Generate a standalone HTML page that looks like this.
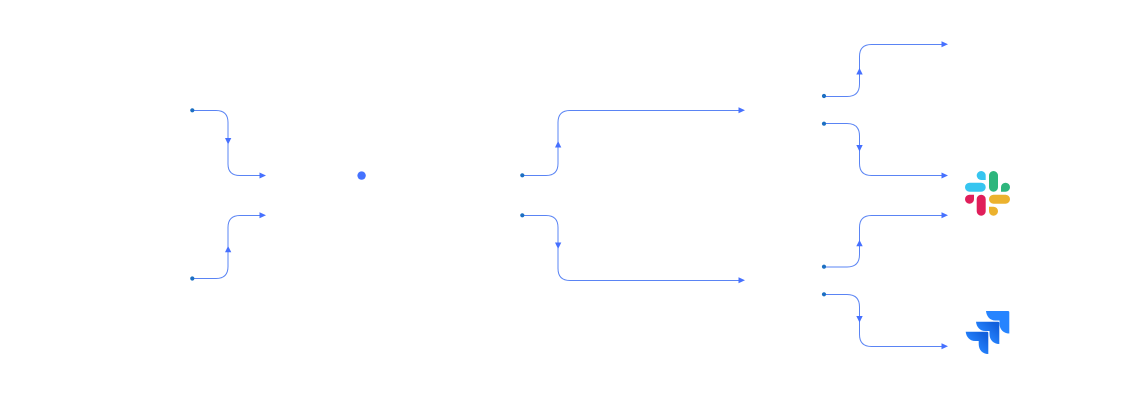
<!DOCTYPE html>
<html>
<head>
<meta charset="utf-8">
<style>
html,body{margin:0;padding:0;background:#fff;width:1140px;height:407px;overflow:hidden}
svg{display:block}
.l{fill:none;stroke:#5a84f4;stroke-width:1}
.a{fill:#4670ff}
.d{fill:#1c6fc2}
</style>
</head>
<body>
<svg width="1140" height="407" viewBox="0 0 1140 407" xmlns="http://www.w3.org/2000/svg">
<defs>
<linearGradient id="g1" x1="0.95" y1="0.25" x2="0.45" y2="0.75">
<stop offset="0" stop-color="#1260dc"/>
<stop offset="1" stop-color="#2684ff"/>
</linearGradient>
</defs>

<!-- left -->
<path class="l" d="M192 110.500H216Q228 110.500 228 122.500V164Q228 175.500 240 175.500H262"/>
<circle class="d" cx="192.300" cy="110.300" r="2.100"/>
<path class="a" d="M225 138H231.300L228.100 144.500Z"/>
<path class="a" d="M259.500 172.500L266 175.500L259.500 178.500Z"/>

<path class="l" d="M192 278.500H216Q228 278.500 228 266.500V227.500Q228 215.500 240 215.500H262"/>
<circle class="d" cx="192.300" cy="278.500" r="2.100"/>
<path class="a" d="M225 252.300H231.300L228.100 246Z"/>
<path class="a" d="M259.500 212.300L266 215.300L259.500 218.300Z"/>

<circle cx="361.600" cy="175.600" r="4.200" fill="#4472ff"/>

<!-- middle -->
<path class="l" d="M522 175.500H546Q558 175.500 558 163.500V122.500Q558 110.500 570 110.500H741"/>
<circle class="d" cx="522.300" cy="175.300" r="2.100"/>
<path class="a" d="M555 147.500H561.300L558.100 141Z"/>
<path class="a" d="M738.500 107.300L745 110.300L738.500 113.300Z"/>

<path class="l" d="M522 215.500H546Q558 215.500 558 227.500V268.500Q558 280.500 570 280.500H741"/>
<circle class="d" cx="522.300" cy="215.300" r="2.100"/>
<path class="a" d="M555 242.500H561.300L558.100 249Z"/>
<path class="a" d="M738.500 277.300L745 280.300L738.500 283.300Z"/>

<!-- right -->
<path class="l" d="M824 96.500H847Q859.500 96.500 859.500 84V56.500Q859.500 44.500 871.500 44.500H944"/>
<circle class="d" cx="824" cy="96" r="2.100"/>
<path class="a" d="M856.300 74.500H862.700L859.500 68Z"/>
<path class="a" d="M941.500 41.300L948 44.300L941.500 47.300Z"/>

<path class="l" d="M824 123.500H847Q859.500 123.500 859.500 136V163.500Q859.500 175.500 871.500 175.500H944"/>
<circle class="d" cx="824" cy="123.700" r="2.100"/>
<path class="a" d="M856.300 145H862.700L859.500 151.500Z"/>
<path class="a" d="M941.500 172.500L948 175.500L941.500 178.500Z"/>

<path class="l" d="M824 267H847Q859.500 267 859.500 254.500V227.500Q859.500 215.500 871.500 215.500H944"/>
<circle class="d" cx="824" cy="266.700" r="2.100"/>
<path class="a" d="M856.300 246.300H862.700L859.500 240Z"/>
<path class="a" d="M941.500 212.300L948 215.300L941.500 218.300Z"/>

<path class="l" d="M824 294.500H847Q859.500 294.500 859.500 307V334.500Q859.500 346.500 871.500 346.500H944"/>
<circle class="d" cx="824" cy="294.300" r="2.100"/>
<path class="a" d="M856.300 316H862.700L859.500 322.500Z"/>
<path class="a" d="M941.500 343.300L948 346.300L941.500 349.300Z"/>

<!-- slack -->
<g>
<rect x="965" y="182.700" width="20.700" height="9" rx="4.500" fill="#36c5f0"/>
<path d="M985.700 180H981.200A4.500 4.500 0 1 1 985.700 175.500Z" fill="#36c5f0"/>
<rect x="989" y="171" width="9" height="20.700" rx="4.500" fill="#2eb67d"/>
<path d="M1001 191.700V187.200A4.500 4.500 0 1 1 1005.500 191.700Z" fill="#2eb67d"/>
<rect x="976.700" y="194.700" width="9" height="21" rx="4.500" fill="#e01e5a"/>
<path d="M974 194.700V199.200A4.500 4.500 0 1 1 969.500 194.700Z" fill="#e01e5a"/>
<rect x="989" y="194.700" width="21" height="9" rx="4.500" fill="#ecb22e"/>
<path d="M989 206.700H993.500A4.500 4.500 0 1 1 989 211.200Z" fill="#ecb22e"/>
</g>

<!-- jira -->
<path fill="#2684ff" d="M986 311H1008A1.300 1.300 0 0 1 1009.300 312.300V333.500C1003.500 333.500 999.500 329.500 999.500 323.500V320.500H995.500C990 320.500 986.500 316.500 986 311Z"/>
<path fill="url(#g1)" d="M976 321.700H998A1.300 1.300 0 0 1 999.300 323V344C993.500 344 989.500 340 989.500 334V331H985.500C980 331 976.500 327 976 321.700Z"/>
<path fill="url(#g1)" d="M965.700 331.700H987A1.300 1.300 0 0 1 988.300 333V354C982.500 354 978.700 350 978.700 344V341H975.200C970 341 966.200 337 965.700 331.700Z"/>
</svg>
</body>
</html>
